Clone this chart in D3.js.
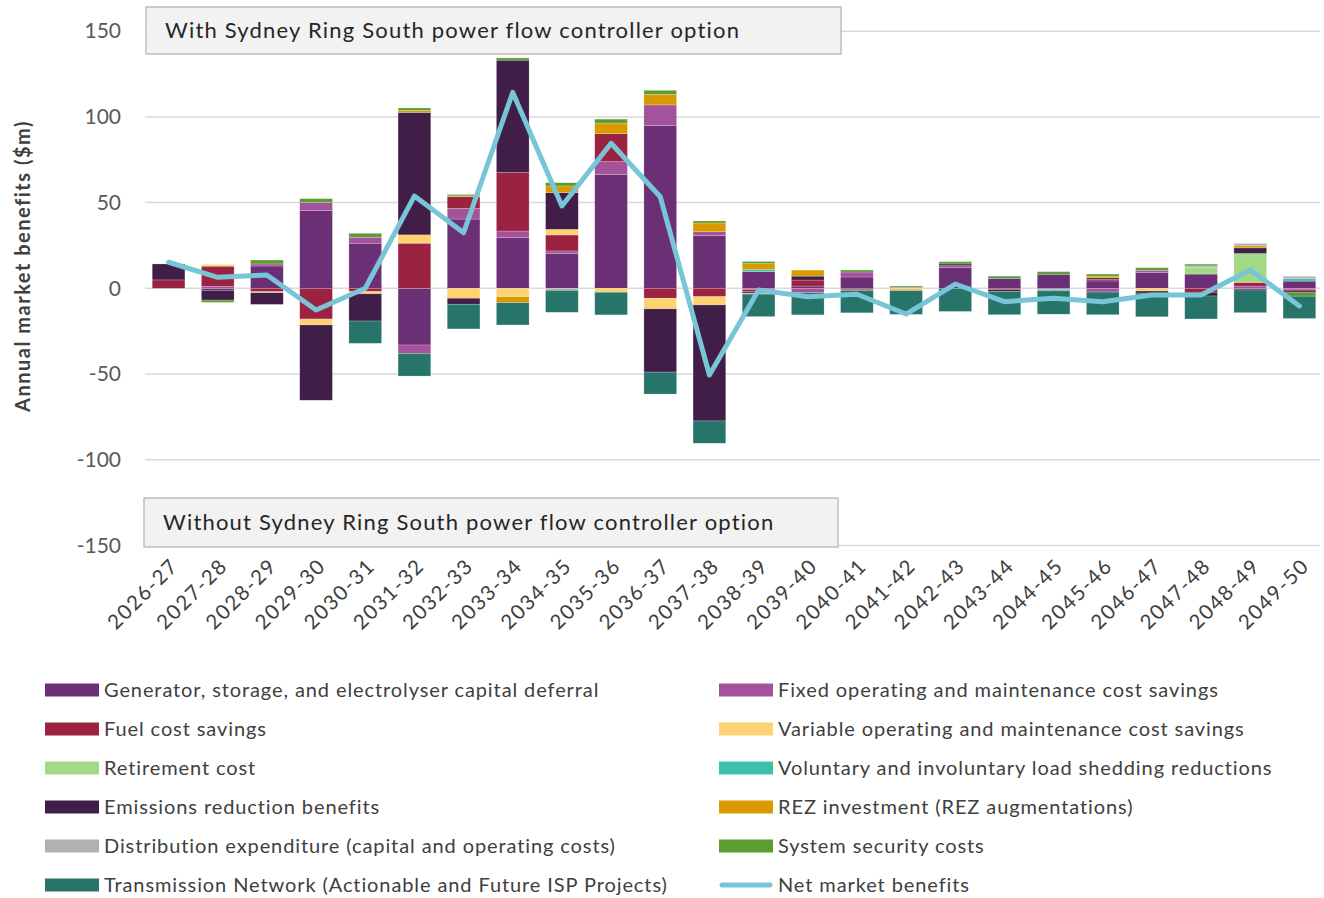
<!DOCTYPE html>
<html>
<head>
<meta charset="utf-8">
<script src="https://cdn.jsdelivr.net/npm/d3@7"></script>
<style>
  html, body { margin: 0; padding: 0; background: #fff; }
  svg { display: block; font-family: Lato, "Open Sans", sans-serif; }
</style>
</head>
<body>
<svg id="chart" width="1324" height="898"></svg>
<script>
const years = ["2026-27","2027-28","2028-29","2029-30","2030-31","2031-32","2032-33","2033-34","2034-35","2035-36","2036-37","2037-38","2038-39","2039-40","2040-41","2041-42","2042-43","2043-44","2044-45","2045-46","2046-47","2047-48","2048-49","2049-50"];

const seriesNames = [
  "Generator, storage, and electrolyser capital deferral",
  "Fixed operating and maintenance cost savings",
  "Fuel cost savings",
  "Variable operating and maintenance cost savings",
  "Retirement cost",
  "Voluntary and involuntary load shedding reductions",
  "Emissions reduction benefits",
  "REZ investment (REZ augmentations)",
  "Distribution expenditure (capital and operating costs)",
  "System security costs",
  "Transmission Network (Actionable and Future ISP Projects)"
];
const netName = "Net market benefits";

const generator    = [0, -1.2, 13, 45.3, 26.3, -33.1, 40.4, 29.5, 20.4, 66.5, 94.9, 30.7, 9.7, 1.3, 6.6, 0, 12, 5.8, 8.2, 4.3, 9.3, 8.3, -1, 4.2];
const fixedOM      = [0, 1.2, 1.2, 4.7, 3.5, -4.9, 6.2, 3.9, 1.4, 7.4, 12.1, 2.3, -0.7, -2.5, 2.9, 0.5, 1.2, 0, -0.7, -2.2, 1.2, 0, 1.3, -0.6];
const fuel         = [4.9, 11.7, -2, -17.9, -1.9, 26.3, 6.8, 34.2, 9.3, 16.3, -5.8, -4.9, -1.3, 3.5, -0.8, 0, 0, -0.8, 0, 1, 0, -2.3, 2.1, -1];
const variableOM   = [0, 1.0, -0.6, -3.5, -1.3, 4.9, -5.8, -4.9, 3.3, -2.3, -6.2, -4.8, 0, 0, 0, -0.6, 0, 0, 0, 0, -1.6, 0, 0, 0];
const retirement   = [0, 0, 0, 0, 0, 0, 0, 0, 0, 0, 0, 0, 0, 0, 0, 0, 0, 0, 0, 0, 0, 3.9, 16.9, 0];
const loadShedding = [0, 0, 0, 0, 0, 0, 0, 0, 0, 0, 0, 0, 1.2, 0, 0, 0, 0, 0, -0.8, 0, 0, 0, 0, 1.4];
const emissions    = [9.3, -5.7, -6.8, -43.9, -15.9, 71.4, -3.5, 65.5, 21.4, 0, -36.9, -67.7, -0.8, 2.3, -0.4, 0, 1, -1, 0, 0.8, -1.2, -2.2, 3.3, -1];
const rez          = [0, 0, 0, 0, 0, 1.2, 0.5, -3.5, 3.9, 6.2, 6.2, 5.1, 3.5, 3.5, 0, -0.8, 0, 0, 0, 1, 0, 0, 1.2, 0];
const distribution = [0, 0, 0, 0, 0, 0, 0, 0, -1.2, 0, 0, 0, -0.6, 0, 0, 0, 0, 0, 0, 0, 0, 0.9, 1.4, 1.4];
const sysSecurity  = [0, -1.3, 2.3, 2.3, 2.3, 1.4, 0.8, 1.3, 1.9, 2.3, 2.3, 1.2, 1.2, 0, 1.2, 0.8, 1.3, 1.3, 1.5, 1.2, 1.5, 1.0, 0, -2];
const transmission = [0, 0, 0, 0, -13, -13.2, -14.4, -13, -12.8, -13.2, -12.8, -13, -13.1, -13.0, -13.1, -13.8, -13.5, -13.6, -13.6, -13.2, -13.8, -13.4, -13.2, -13];
const netBenefits  = [15.2, 6.4, 7.8, -12.7, 0, 53.8, 32.4, 114.3, 48, 84.6, 53.4, -50.6, -1, -4.9, -3.5, -15, 2.5, -7.8, -5.8, -7.8, -3.9, -3.9, 10.7, -10.3];

const yTicks = [150, 100, 50, 0, -50, -100, -150];

const seriesValues = [generator, fixedOM, fuel, variableOM, retirement, loadShedding, emissions, rez, distribution, sysSecurity, transmission];
const colors = ["#6B2F76", "#A4529B", "#9C2242", "#FED270", "#A1D985", "#3FC1A9", "#401E47", "#D99A00", "#B1B1B1", "#5A9E33", "#27756A"];
const netColor = "#77C5D6";

const svg = d3.select("#chart");

const x = d3.scaleBand().domain(years).range([144, 1324]).paddingInner(0.335).paddingOuter(0.1675);
const y = d3.scaleLinear().domain([-150, 150]).range([545.4, 31.2]);

// gridlines
svg.append("g").selectAll("line").data(yTicks).join("line")
  .attr("x1", 145).attr("x2", 1320)
  .attr("y1", d => y(d)).attr("y2", d => y(d))
  .attr("stroke", "#D9D9D9").attr("stroke-width", 1.5);

// y axis labels
const yAxis = d3.axisLeft(y).tickValues(yTicks).tickSize(0).tickPadding(0).tickFormat(d => String(d));
const gy = svg.append("g").attr("transform", "translate(121,0)").call(yAxis);
gy.select(".domain").remove();
gy.selectAll("text").attr("font-family", "Lato, sans-serif").attr("font-size", 21).attr("fill", "#595959");

// stacked data
const table = years.map((yr, i) => {
  const row = { year: yr };
  seriesNames.forEach((s, k) => row[s] = seriesValues[k][i]);
  return row;
});
const stacked = d3.stack().keys(seriesNames).offset(d3.stackOffsetDiverging)(table);

svg.append("g").selectAll("g").data(stacked).join("g")
  .attr("fill", (d, k) => colors[k])
  .selectAll("rect").data(d => d).join("rect")
  .attr("x", d => x(d.data.year))
  .attr("width", x.bandwidth())
  .attr("y", d => y(Math.max(d[0], d[1])))
  .attr("height", d => Math.abs(y(d[0]) - y(d[1])))
  .attr("stroke", "#ffffff").attr("stroke-opacity", 0.35).attr("stroke-width", 0.6);

// net line
const line = d3.line().x((d, i) => x(years[i]) + x.bandwidth() / 2).y(d => y(d));
svg.append("path").datum(netBenefits)
  .attr("d", line).attr("fill", "none")
  .attr("stroke", netColor).attr("stroke-width", 5)
  .attr("stroke-linejoin", "round").attr("stroke-linecap", "round");

// x axis labels
const xAxis = d3.axisBottom(x).tickSize(0).tickPadding(0);
const gx = svg.append("g").attr("transform", "translate(0,562)").call(xAxis);
gx.select(".domain").remove();
gx.selectAll("text")
  .attr("font-family", "Lato, sans-serif").attr("font-size", 20.5).attr("fill", "#404040")
  .attr("letter-spacing", 1.6)
  .attr("text-anchor", "end").attr("dy", "0.35em")
  .attr("transform", "translate(6,0) rotate(-45)");

// y axis title
svg.append("text")
  .attr("transform", "translate(30,266) rotate(-90)")
  .attr("text-anchor", "middle")
  .attr("font-size", 20).attr("font-weight", "bold").attr("fill", "#404040")
  .attr("letter-spacing", 1.5)
  .text("Annual market benefits ($m)");

// annotation boxes
function box(x0, y0, w, h, txt) {
  svg.append("rect").attr("x", x0).attr("y", y0).attr("width", w).attr("height", h)
    .attr("fill", "#F2F2F2").attr("stroke", "#BFBFBF").attr("stroke-width", 1.5);
  svg.append("text").attr("x", x0 + 19).attr("y", y0 + h / 2).attr("dy", "0.35em")
    .attr("font-size", 22).attr("fill", "#262626").attr("letter-spacing", 1.2).text(txt);
}
box(146, 7, 695, 47, "With Sydney Ring South power flow controller option");
box(144, 498, 694, 49, "Without Sydney Ring South power flow controller option");

// legend
const legendItems = [];
seriesNames.forEach((s, k) => legendItems.push({ name: s, color: colors[k], type: "rect" }));
legendItems.push({ name: netName, color: netColor, type: "line" });
const lg = svg.append("g");
legendItems.forEach((it, i) => {
  const col = i % 2, row = Math.floor(i / 2);
  const lx = col === 0 ? 45 : 719;
  const ly = 690 + row * 39;
  if (it.type === "rect") {
    lg.append("rect").attr("x", lx).attr("y", ly - 6.5).attr("width", 54).attr("height", 13).attr("fill", it.color);
  } else {
    lg.append("line").attr("x1", lx + 3).attr("x2", lx + 51).attr("y1", ly).attr("y2", ly)
      .attr("stroke", it.color).attr("stroke-width", 5).attr("stroke-linecap", "round");
  }
  lg.append("text").attr("x", lx + 59).attr("y", ly).attr("dy", "0.35em")
    .attr("font-size", 20).attr("fill", "#404040").attr("letter-spacing", 0.9).text(it.name);
});
</script>
</body>
</html>
